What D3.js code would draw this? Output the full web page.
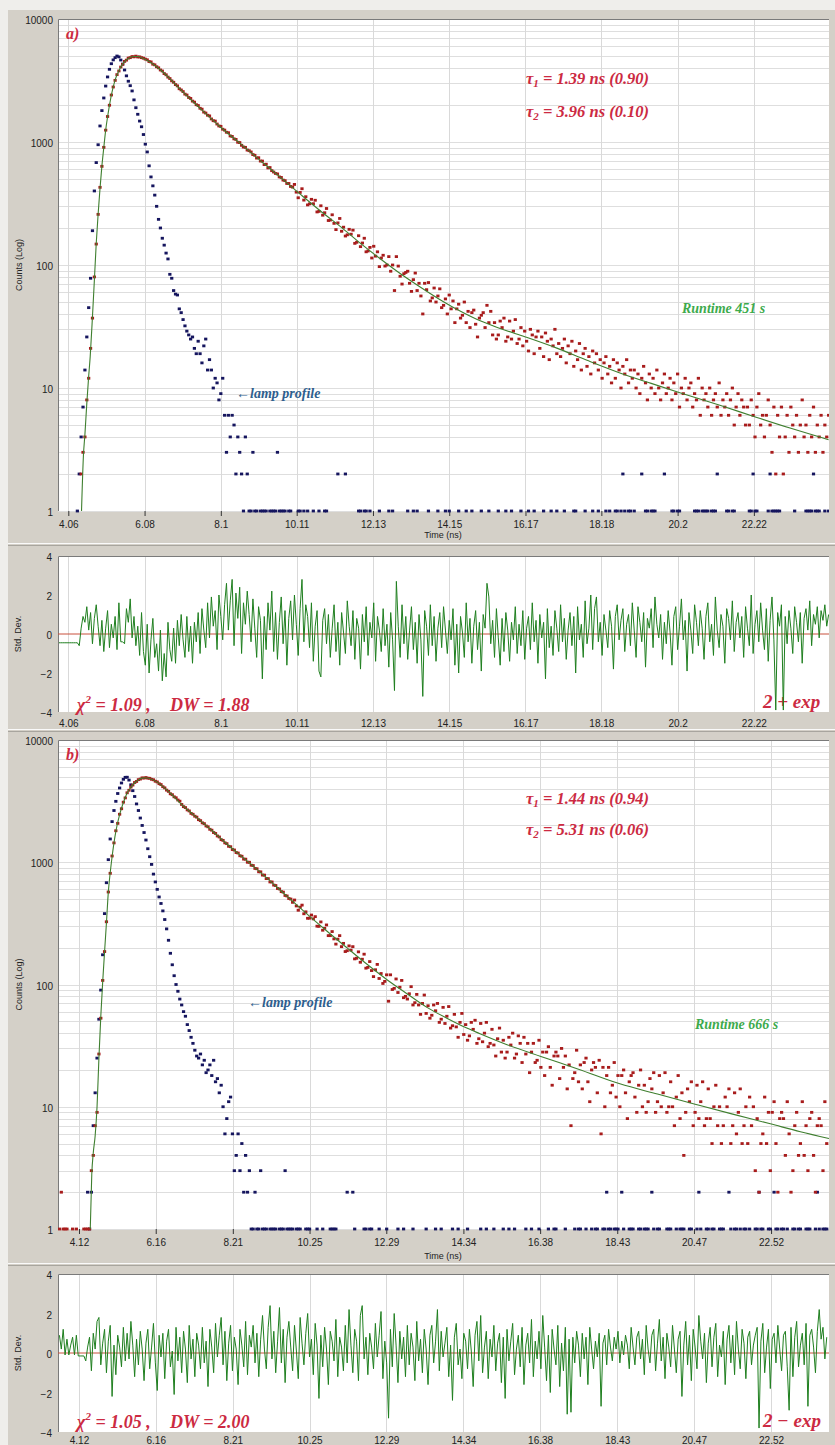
<!DOCTYPE html>
<html>
<head>
<meta charset="utf-8">
<script src="https://cdnjs.cloudflare.com/ajax/libs/d3/7.8.5/d3.min.js"></script>
<style>
  body { margin: 0; background: #d4d0c8; }
  svg { display: block; }
</style>
</head>
<body>
<div id="chart"></div>
<script>
// ---- données ----
const step = 0.05; // pas des canaux (ns)

// panneau a)
const ticksA = [4.06, 6.08, 8.1, 10.11, 12.13, 14.15, 16.17, 18.18, 20.2, 22.22];
const tickLabelsA = ['4.06', '6.08', '8.1', '10.11', '12.13', '14.15', '16.17', '18.18', '20.2', '22.22'];
const timeRangeA = [3.787, 24.21];

const decayStartA = 4.40;
const decayA = [
  2,3,4,8,12,21,37,80,148,258,428,634,905,1248,1612,1990,2410,2800,3170,3530,3780,4070,4280,4520,4630,4810,4850,4950,4920,4990,4910,4920,4850,4800,4720,4660,4510,4480,4290,4240,4090,4010,3850,3780,3600,3520,3370,3280,3140,3060,2930,2860,2710,
  2650,2570,2450,2410,2300,2260,2150,2110,2010,1980,1880,1850,1750,1720,1650,1630,1540,1490,1480,1400,1350,1340,1270,1250,1200,1190,1120,1110,1060,1050,995,990,940,910,905,860,850,830,790,780,740,745,700,700,655,660,615,620,585,570,555,550,520,515,490,485,460,460,435,430,
  452,391,352,389,417,337,359,308,314,342,315,336,270,273,303,254,266,288,230,232,256,218,194,220,239,188,203,172,176,195,178,192,150,153,173,141,151,165,128,130,139,114,142,118,128,97,114,120,98,100,117,89,100,62,117,98,81,70,85,87,
  89,71,61,76,86,62,71,56,40,71,63,72,51,54,65,50,56,64,45,47,53,40,57,44,51,34,44,48,37,39,50,34,42,31,41,43,33,26,37,39,41,31,47,34,42,27,34,25,27,35,31,37,24,26,35,25,29,36,23,25,
  31,22,29,24,20,30,27,19,26,29,21,26,18,28,24,17,25,22,30,19,23,18,21,25,16,22,19,24,15,20,17,23,14,19,21,15,18,13,20,16,19,14,17,12,16,18,13,15,11,17,12,16,14,10,15,13,17,11,14,12,
  14,10,13,9,12,15,11,8,13,10,12,9,14,10,8,11,13,9,10,12,8,11,9,13,7,10,9,12,8,10,11,7,9,8,12,6,10,8,9,7,10,6,8,9,7,11,6,8,7,9,6,8,10,5,7,9,6,8,7,5,
  7,5,8,6,4,7,9,5,6,4,6,8,5,3,7,2,6,4,7,2,4,6,3,7,5,4,6,3,5,8,4,5,3,6,4,7,3,5,4,6,3,5,4,6
];

const lampStartA = 4.30;
const lampA = [
  1,2,4,7,14,26,45,78,190,400,680,950,1350,1800,2280,2850,3380,3900,4330,4650,
  4850,5000,4920,4640,4300,3850,3450,3120,2870,2600,2200,1900,1680,1480,1330,1150,960,830,640,520,
  440,370,300,235,200,165,145,125,112,84,78,62,58,57,44,41,36,32,29,27,
  25,26,21,19,24,19,16,22,25,14,17,14,10,12,11,8,9,12,6,3,6,4,6,5,2,4,3,2,
  1,4,2,1,1,3,1,1,0,1, 1,1,1,0,1,1,1,1,3,1, 1,1,1,0,1,1,0,0,0,1, 1,0,1,0,1,0,0,1,0,0,
  1,0,0,1,1,0,0,0,0,0, 2,0,0,0,2,0,0,0,0,0, 0,1,1,0,1,1,0,1,0,0, 0,0,1,0,0,0,0,1,0,1,
  0,0,0,0,0,0,0,1,0,0, 1,0,1,0,0,0,0,0,1,0, 0,0,0,1,0,0,0,1,0,1, 0,0,0,0,1,0,0,0,1,0,
  0,1,0,0,0,0,1,0,0,0, 1,0,0,0,0,1,0,0,0,1, 0,0,1,0,0,0,0,1,0,0, 0,1,0,0,1,0,0,0,0,1,
  0,0,0,1,0,0,1,0,0,0, 1,0,0,0,0,1,1,0,0,0, 0,1,0,0,0,1,0,0,1,0, 0,0,1,0,1,0,0,1,1,0,
  1,2,1,0,1,1,0,1,0,0, 0,2,0,1,1,0,1,1,1,0, 0,0,0,2,0,0,0,1,1,0, 1,1,0,0,0,0,0,0,0,1,
  1,1,0,1,1,1,1,0,1,1, 1,2,0,0,0,0,1,1,0,1, 1,0,0,0,0,0,0,0,1,1, 2,1,1,0,0,0,0,0,1,2,
  1,1,1,1,1,0,0,0,0,0, 0,0,1,0,0,0,0,0,1,1, 1,1,2,1,1,1,0,0,1,0, 1
];

const fitA = [
  [4.41,1],[4.46,2.8],[4.50,4.2],[4.55,7.5],[4.60,12.5],[4.64,18],[4.70,38],[4.75,75],[4.80,150],[4.85,260],
  [4.90,420],[4.95,640],[5.00,900],[5.05,1250],[5.10,1600],[5.20,2400],[5.30,3200],[5.40,3800],[5.50,4300],
  [5.60,4650],[5.70,4870],[5.80,4950],[5.90,4950],[6.00,4850],[6.20,4520],[6.40,4090],[6.60,3620],[6.80,3150],
  [7.00,2730],[7.55,1880],[8.08,1330],[8.61,975],[9.14,710],[9.68,515],[10.21,375],[10.74,275],[11.27,205],
  [11.80,150],[12.33,112],[12.86,85],[13.39,66],[13.92,52],[14.45,42],[14.89,36],[15.5,30.5],[16.17,26],
  [17.0,21.1],[17.8,16.8],[18.69,13.2],[19.5,10.9],[20.28,9.1],[21.34,7.2],[22.2,5.9],[23.2,4.7],[24.2,3.8]
];

const residStartA = 3.80;
const residA = [
  -0.45,-0.45,-0.45,-0.45,-0.45,-0.45,-0.45,-0.45,-0.45,-0.45,-0.45,-0.6,
  0.3,0.9,0.6,1.4,0.2,1.1,-0.5,0.8,1.5,0.4, -0.6,0.7,-0.9,0.3,1.2,-0.7,0.5,-0.2,0.9,-0.8,
  1.6,-0.4,-0.4,-0.5,1.3,0.6,1.8,-0.2,0.9,-0.6, 0.4,-1.1,1.1,-0.9,-1.6,0.5,-2.0,-0.3,0.8,-1.2,
  -0.5,-1.9,0.2,-2.4,-1.0,-2.2,0.6,-0.8,-1.4,0.3, -1.5,0.7,-0.6,1.0,-0.3,-1.2,0.9,-0.9,0.4,-1.5,
  0.6,-0.4,1.1,-1.0,1.3,0.2,-0.7,1.6,-0.2,1.9, 0.4,1.2,-0.8,2.0,0.9,-0.3,1.5,2.6,0.2,1.7,
  2.8,-0.6,2.1,0.8,2.4,-1.0,1.6,0.5,2.2,1.0, -0.4,1.8,0.3,-1.2,1.4,0.7,-2.3,0.9,-0.8,1.6,
  0.2,2.2,-0.9,1.1,-1.3,0.6,1.9,-0.5,1.2,-1.6, 0.8,1.7,-0.3,2.0,0.5,-1.1,1.3,2.8,-0.4,1.5,
  0.9,-0.7,1.6,-1.4,0.4,1.2,-1.9,-2.2,0.7,1.3, -0.5,1.0,-1.2,0.3,1.5,-0.9,0.6,-1.6,1.1,0.1,
  -1.0,1.7,0.4,-0.6,1.2,-1.3,0.8,0.3,-1.8,1.0, -0.4,1.4,-1.1,0.6,-0.2,1.6,-1.4,0.9,0.2,-0.9,
  1.3,-0.6,0.5,-1.7,1.1,-0.3,-2.9,2.7,0.4,-1.2, 1.5,-0.5,0.9,-1.3,0.2,1.4,-0.8,0.6,-1.5,1.0,
  -0.3,-3.2,1.2,0.4,-1.1,1.5,-0.6,0.9,-1.4,0.3, 1.1,-0.7,1.4,0.2,-1.0,0.7,-0.3,1.3,-1.6,0.5,
  -2.0,0.9,0.1,-1.2,1.6,-0.4,0.8,-1.5,0.4,1.2, -0.8,0.6,-1.9,1.0,0.3,2.6,1.9,-0.5,0.7,-1.2,
  1.3,-0.2,-1.6,0.8,-0.9,1.1,0.2,-1.4,0.6,-0.3, 1.4,-1.0,0.5,-0.6,1.2,-1.3,0.3,0.9,-0.8,1.6,
  -0.4,0.7,-1.5,1.0,-0.2,0.6,-2.3,1.3,-0.7,0.4, -1.1,1.2,0.3,-0.9,1.5,-0.4,0.8,-1.3,0.2,1.1,
  -0.6,0.9,-2.0,1.4,-0.3,0.5,-1.2,1.7,-0.5,0.3, 2.0,-0.8,1.3,1.9,-0.4,0.6,-1.1,1.0,0.2,-0.7,
  1.2,0.4,-1.8,0.9,1.5,-0.3,0.7,1.3,-0.9,0.5, 1.0,-0.6,1.6,0.2,-1.2,1.4,0.6,-0.4,1.1,-1.7,
  0.8,0.3,1.3,-0.7,1.9,0.5,-0.2,1.0,-1.3,0.6, -0.5,1.2,0.1,-1.6,0.9,1.4,-0.8,0.4,1.8,-0.3,
  0.7,-1.9,1.1,0.2,-1.0,1.5,0.6,-0.6,1.2,0.3, -1.3,0.9,1.6,-0.4,0.5,-1.1,1.9,0.2,-0.7,1.0,
  0.4,-1.5,1.3,0.8,-0.3,1.7,-0.9,0.6,1.1,-0.2, 0.9,-1.2,1.4,0.3,-0.6,2.0,-1.0,0.5,1.2,-0.4,
  1.6,0.2,-0.8,1.3,-1.4,0.7,1.9,-0.3,-3.9,1.1, 0.4,1.5,-3.9,0.9,-0.5,1.2,0.3,-1.0,1.4,0.6,
  -0.4,1.1,-1.5,0.8,1.3,0.2,1.7,-0.6,1.0,0.5, 1.4,-0.2,1.2,0.7,1.5,0.4,1.0
];

// panneau b)
const ticksB = [4.12, 6.16, 8.21, 10.25, 12.29, 14.34, 16.38, 18.43, 20.47, 22.52];
const tickLabelsB = ['4.12', '6.16', '8.21', '10.25', '12.29', '14.34', '16.38', '18.43', '20.47', '22.52'];
const timeRangeB = [3.562, 24.06];

const decayStartB = 3.60;
const decayB = [
  1,2,1,1,1,0,0,1,0,1,0,0,0,1,1,1,1,
  3,4,7,9,27,53,108,186,326,571,812,1125,1440,1810,2080,2470,2740,3100,3360,3700,3880,4120,4280,4490,4580,4740,4790,4900,4880,4930,4870,4860,4770,4730,4600,4540,4390,4320,4150,4060,3890,3800,3630,3570,3430,3370,3230,3160,
  2970,2850,2800,2680,2630,2510,2470,2380,2340,2230,2190,2100,2070,1980,1950,1860,1830,1750,1720,1640,1610,1530,1510,1440,1420,1350,1340,1270,1260,1200,1190,1130,1120,1060,1060,1000,1000,945,940,890,885,835,835,785,785,735,735,690,690,650,645,610,605,575,570,535,530,505,500,470,
  491,439,405,429,446,379,393,348,349,370,344,359,300,299,325,278,288,307,251,251,271,236,214,235,251,204,217,186,189,207,191,204,162,164,185,152,161,177,136,138,154,130,116,132,146,112,123,102,106,120,73,120,91,93,111,86,95,108,78,80,
  76,84,96,68,71,83,68,57,70,82,58,67,53,56,68,61,70,49,52,65,48,55,66,44,46,57,45,37,49,58,39,47,35,38,49,43,51,33,36,48,34,40,49,31,33,43,32,26,36,44,28,35,25,28,37,32,40,25,27,38,
  33,23,37,27,33,19,28,33,23,24,35,21,28,18,28,31,21,15,26,28,26,17,30,21,26,14,22,7,17,19,29,16,22,14,23,25,16,11,20,23,21,13,24,6,21,10,18,21,13,15,23,12,18,10,18,20,13,8,16,18,
  19,12,9,15,20,10,15,9,11,17,14,19,9,11,18,10,13,19,9,10,16,10,7,12,18,8,13,4,9,14,11,16,7,9,15,8,11,16,7,8,14,8,5,10,15,7,10,5,7,12,10,14,5,7,13,6,9,14,5,7,
  10,5,12,7,10,3,8,2,5,6,12,5,9,3,9,11,5,2,8,9,8,4,11,6,2,3,7,9,4,5,11,4,7,3,8,9,4,2,7,8,7,3,11,5
];

const lampStartB = 4.30;
const lampB = [
  0,2,1,2,7,13,25,52,90,175,380,680,1050,1550,2150,2650,3150,3650,4050,4450,
  4770,4950,4960,4700,4300,3850,3450,3000,2650,2300,2000,1750,1520,1290,1110,960,800,690,600,520,
  460,400,340,285,230,180,145,118,100,88,76,68,60,55,47,42,37,33,29,26,
  25,27,22,24,19,20,22,18,24,16,17,13,15,10,6,8,11,12,6,3,4,6,3,5,2,4,2,3,
  1,1,2,1,1,3,1,1,1,0, 1,1,1,1,0,1,1,1,3,1, 1,1,1,0,1,1,1,0,0,1, 1,1,0,0,0,1,0,0,1,0,
  0,0,1,1,1,1,0,0,0,0, 0,2,0,0,2,1,0,0,0,0, 1,1,0,1,1,0,0,0,1,0, 0,0,1,0,0,0,0,0,1,0,
  0,1,0,0,0,0,1,0,0,0, 0,0,0,1,0,0,0,0,1,0, 0,1,0,0,0,0,0,1,0,0, 1,0,0,0,0,1,0,0,0,0,
  0,0,1,0,0,1,0,0,0,1, 0,0,0,0,1,0,0,1,0,0, 1,0,0,0,0,0,1,0,0,1, 0,0,0,1,0,0,0,0,1,0,
  0,1,1,0,0,0,0,1,0,0, 0,0,1,0,1,1,0,0,1,0, 0,1,0,1,1,0,0,1,1,2, 1,1,0,1,1,1,0,2,1,0,
  0,1,1,1,0,0,1,1,0,1, 1,1,0,2,1,0,1,1,0,0, 0,1,1,1,0,0,1,0,1,1, 1,0,0,1,1,0,0,1,2,1,
  0,0,1,1,0,1,1,0,0,1, 1,1,0,0,2,1,0,1,1,0, 1,0,1,1,0,1,0,0,1,1, 2,1,1,0,0,1,1,0,2,1,
  1,0,1,1,0,1,0,0,1,1, 0,1,1,0,0,1,1,1,0,0, 1,2,1,0,1,1, 1
];

const fitB = [
  [4.42,1],[4.46,2.8],[4.50,4.2],[4.55,5.8],[4.60,10],[4.65,25],[4.70,55],[4.75,105],[4.80,185],[4.85,320],
  [4.90,570],[4.95,820],[5.00,1110],[5.10,1790],[5.20,2450],[5.30,3080],[5.40,3680],[5.50,4100],[5.60,4470],
  [5.70,4720],[5.80,4880],[5.90,4910],[6.00,4850],[6.20,4520],[6.40,4040],[6.60,3550],[6.81,3050],[7.16,2450],
  [7.60,1880],[8.05,1410],[8.58,1030],[9.11,745],[9.64,530],[10.17,380],[10.70,275],[11.24,200],[11.77,147],
  [12.30,110],[12.84,84],[13.37,65],[13.90,53],[14.43,44],[14.78,39.6],[15.5,32.2],[16.4,25.8],[17.4,20.3],
  [18.5,15.4],[19.5,12.7],[20.5,10.5],[21.5,8.7],[22.5,7.25],[23.3,6.25],[24.06,5.5]
];

const residStartB = 3.60;
const residB = [
  0.9,0.2,1.2,-0.1,0.7,-0.1,0.4,0.8,-0.1,0.9,-0.15,-0.15,-0.15,-0.15,-0.4,0.3,
  0.8,-0.9,1.0,0.2,1.6,1.8,-0.6,0.5,1.2,-1.0, 0.6,1.4,-2.2,0.4,-1.1,0.9,0.3,-0.7,1.3,-0.4,
  1.0,-0.3,1.6,0.4,-1.2,0.7,-0.6,1.1,0.2,-1.4, 0.5,1.2,-0.8,0.3,1.5,-0.5,-1.9,0.9,-0.2,1.0,
  -1.3,0.6,1.2,-0.7,0.1,-2.1,1.3,-0.4,0.8,-1.0, 1.1,0.2,-1.5,1.4,-0.3,0.7,-1.2,1.0,0.4,-0.8,
  1.3,-0.5,0.6,-1.7,1.2,0.3,-1.0,1.5,-0.2,0.9, 1.8,-0.6,1.1,-1.4,0.5,1.4,-0.9,0.8,0.2,-1.6,
  1.2,0.4,-0.7,1.6,-1.1,0.9,0.3,1.4,-0.5,1.0, -1.2,0.7,1.9,0.2,-0.8,1.3,2.4,-0.3,1.1,-1.0,
  0.6,2.3,-0.5,1.2,-1.5,0.8,1.6,0.3,-0.9,1.4, 0.1,-1.3,1.8,0.5,-0.6,1.0,2.0,-0.2,0.7,-1.1,
  1.5,0.4,-2.3,0.9,-0.7,1.3,0.2,-1.6,1.1,0.6, -0.4,1.7,-1.2,0.8,0.3,-0.9,1.4,-0.5,2.2,0.4,
  -1.0,1.2,0.6,-1.4,1.9,2.4,-0.3,0.8,-1.1,1.0, 0.3,-0.8,1.5,-0.2,0.9,2.1,-1.3,0.6,-0.5,-3.3,
  1.2,-0.7,2.0,0.4,-1.5,1.1,-0.3,0.8,-1.2,1.4, -0.6,1.0,0.3,-1.4,1.6,-0.4,0.7,-1.0,1.2,0.2,
  -1.6,0.9,1.4,-0.5,0.6,2.2,-0.9,1.1,-0.2,0.5, 1.3,-1.2,0.4,-2.4,0.8,1.5,-0.6,0.2,-1.3,1.0,
  0.6,-0.8,1.2,0.1,-1.7,0.9,1.6,-0.4,1.9,-1.0, 0.3,1.1,-1.3,0.7,-0.2,1.4,-0.9,0.5,1.0,-1.5,
  0.8,-2.3,1.2,-0.4,0.6,1.5,-1.1,0.2,0.9,-0.7, 1.3,-1.6,0.4,1.0,-0.5,1.7,-1.2,0.6,-0.3,1.1,
  -0.8,1.9,0.3,-1.4,0.9,-2.0,1.2,0.2,-0.6,1.4, -1.7,0.5,-0.9,1.3,-3.1,0.7,-3.0,0.8,-0.5,1.1,
  0.4,-1.2,1.0,-0.3,0.8,-1.6,1.3,0.2,-0.8,0.6, -0.2,1.0,-2.7,0.5,0.9,-0.6,1.2,0.3,-0.4,0.8,
  0.2,1.1,-0.5,0.6,-0.1,0.9,0.4,-0.8,1.3,0.3, -0.6,0.8,1.1,-0.3,0.7,-1.1,1.4,0.2,-0.5,0.9,
  1.2,-0.9,0.5,1.7,-0.4,0.8,-1.3,1.0,0.3,-0.7, 1.4,0.2,-1.0,0.7,1.1,-2.2,0.4,1.6,-0.6,0.9,
  -1.4,1.2,0.3,-0.8,1.9,0.6,-0.3,1.0,-1.5,0.5, 1.3,-0.7,0.8,1.5,-1.2,0.4,-0.2,1.1,-1.6,0.7,
  1.4,-0.5,0.9,-1.1,1.6,0.2,-0.8,1.2,0.5,-1.3, 0.8,1.1,-0.6,0.4,0.9,1.3,-3.8,0.6,1.5,-1.0,
  0.3,1.2,-1.8,0.7,1.0,-0.5,1.4,0.2,-0.9,0.9, 1.1,-0.7,-2.9,1.3,-1.2,0.8,1.6,-0.7,0.4,1.0,
  -0.6,1.5,-2.7,0.9,1.2,0.3,-1.0,1.1,2.2,0.7, 1.3,-0.3,0.8
];

// ---- mise en page ----
const W = 835, H = 1445;
const plotLeft = 58, plotRight = 829;
const red = '#a81c1c', navy = '#15155e', fitGreen = '#3f7f2f', resGreen = '#1f7f1f';
const annotRed = '#cc2a42';

const svg = d3.select('#chart').append('svg')
  .attr('width', W)
  .attr('height', H)
  .style('font-family', '"Liberation Sans", Arial, sans-serif');

// fond de la fenêtre
svg.append('rect').attr('width', W).attr('height', H).attr('fill', '#efeeeb');
svg.append('rect').attr('x', 8).attr('y', 10).attr('width', W - 8).attr('height', H - 10).attr('fill', '#d4d0c8');

// séparateurs entre les zones
[543, 729, 1263].forEach(yy => {
  svg.append('line').attr('x1', 8).attr('x2', W).attr('y1', yy + 0.5).attr('y2', yy + 0.5).attr('stroke', '#fafafa');
  svg.append('line').attr('x1', 8).attr('x2', W).attr('y1', yy + 2.5).attr('y2', yy + 2.5).attr('stroke', '#a8a59e');
});

const panels = [
  {
    id: 'a', label: 'a)', tRange: timeRangeA, ticks: ticksA, tickLabels: tickLabelsA,
    decayTop: 19, decayBottom: 511, resTop: 556, resBottom: 712, resPad: 8,
    decay: decayA, decayStart: decayStartA, lamp: lampA, lampStart: lampStartA,
    fit: fitA, resid: residA, residStart: residStartA,
    tau1: ['1', '1.39 ns (0.90)'], tau2: ['2', '3.96 ns (0.10)'], tauY: [84, 117],
    runtime: 'Runtime 451 s', runtimeX: 682, runtimeY: 313,
    lampX: 236, lampY: 398,
    chi: '1.09', dw: '1.88', statY: 711, model: '2 + exp', modelY: 708,
    timeY: 538
  },
  {
    id: 'b', label: 'b)', tRange: timeRangeB, ticks: ticksB, tickLabels: tickLabelsB,
    decayTop: 740, decayBottom: 1229, resTop: 1274, resBottom: 1432, resPad: 5,
    decay: decayB, decayStart: decayStartB, lamp: lampB, lampStart: lampStartB,
    fit: fitB, resid: residB, residStart: residStartB,
    tau1: ['1', '1.44 ns (0.94)'], tau2: ['2', '5.31 ns (0.06)'], tauY: [804, 835],
    runtime: 'Runtime 666 s', runtimeX: 695, runtimeY: 1029,
    lampX: 248, lampY: 1007,
    chi: '1.05', dw: '2.00', statY: 1428, model: '2 \u2212 exp', modelY: 1427,
    timeY: 1259
  }
];

panels.forEach(drawPanel);

function drawPanel(p) {
  const g = svg.append('g').attr('class', 'panel-' + p.id);

  const x = d3.scaleLinear().domain(p.tRange).range([plotLeft, plotRight]);
  const y = d3.scaleLog().domain([1, 10000]).range([p.decayBottom, p.decayTop]);
  const yr = d3.scaleLinear().domain([-4, 4]).range([p.resBottom, p.resTop]);

  // zones de tracé
  [[p.decayTop, p.decayBottom], [p.resTop, p.resBottom]].forEach(([t, b]) => {
    g.append('rect')
      .attr('x', plotLeft).attr('y', t)
      .attr('width', plotRight - plotLeft).attr('height', b - t)
      .attr('fill', '#ffffff');
  });

  // grille horizontale (log)
  const levels = [];
  [1, 10, 100, 1000].forEach(d => { for (let k = 1; k < 10; k++) levels.push(k * d); });
  levels.push(10000);
  g.selectAll('.hgrid').data(levels).enter().append('line')
    .attr('class', 'hgrid')
    .attr('x1', plotLeft).attr('x2', plotRight)
    .attr('y1', d => Math.round(y(d)) + 0.5).attr('y2', d => Math.round(y(d)) + 0.5)
    .attr('stroke', '#dedede');

  // grille verticale
  [[p.decayTop, p.decayBottom], [p.resTop, p.resBottom]].forEach(([t, b]) => {
    g.selectAll(null).data(p.ticks).enter().append('line')
      .attr('x1', d => Math.round(x(d)) + 0.5).attr('x2', d => Math.round(x(d)) + 0.5)
      .attr('y1', t).attr('y2', b)
      .attr('stroke', '#d9d9d9');
  });

  // bordures des zones
  [[p.decayTop, p.decayBottom], [p.resTop, p.resBottom]].forEach(([t, b]) => {
    g.append('path')
      .attr('d', `M${plotLeft + 0.5},${b}V${t + 0.5}H${plotRight}`)
      .attr('fill', 'none').attr('stroke', '#7a7a7a');
  });

  // axes
  const xAxis = d3.axisBottom(x).tickValues(p.ticks)
    .tickFormat((d, i) => p.tickLabels[i]).tickSize(5).tickPadding(5);
  g.append('g').attr('transform', `translate(0,${p.decayBottom})`).call(xAxis)
    .call(a => a.select('.domain').remove())
    .call(a => a.selectAll('line').attr('stroke', '#333'))
    .call(a => a.selectAll('text').attr('fill', '#222').attr('font-size', '10px'));

  const xAxisRes = d3.axisBottom(x).tickValues(p.ticks)
    .tickFormat((d, i) => p.tickLabels[i]).tickSize(0).tickPadding(p.resPad);
  g.append('g').attr('transform', `translate(0,${p.resBottom})`).call(xAxisRes)
    .call(a => a.select('.domain').remove())
    .call(a => a.selectAll('text').attr('fill', '#222').attr('font-size', '10px'));

  const yAxis = d3.axisLeft(y).tickValues([1, 10, 100, 1000, 10000])
    .tickFormat(d3.format('d')).tickSize(0).tickPadding(5);
  g.append('g').attr('transform', `translate(${plotLeft},0)`).call(yAxis)
    .call(a => a.select('.domain').remove())
    .call(a => a.selectAll('text').attr('fill', '#222').attr('font-size', '10px').attr('dy', '0.45em'));

  const yAxisRes = d3.axisLeft(yr).tickValues([-4, -2, 0, 2, 4])
    .tickFormat(d3.format('d')).tickSize(0).tickPadding(6);
  g.append('g').attr('transform', `translate(${plotLeft},0)`).call(yAxisRes)
    .call(a => a.select('.domain').remove())
    .call(a => a.selectAll('text').attr('fill', '#222').attr('font-size', '10px').attr('dy', '0.45em'));

  // titres d'axes
  g.append('text')
    .attr('x', 443).attr('y', p.timeY)
    .attr('text-anchor', 'middle').attr('font-size', '9px').attr('fill', '#222')
    .text('Time (ns)');

  g.append('text')
    .attr('transform', `translate(22,${(p.decayTop + p.decayBottom) / 2}) rotate(-90)`)
    .attr('text-anchor', 'middle').attr('font-size', '9px').attr('fill', '#222')
    .text('Counts (Log)');

  g.append('text')
    .attr('transform', `translate(21,${(p.resTop + p.resBottom) / 2}) rotate(-90)`)
    .attr('text-anchor', 'middle').attr('font-size', '9px').attr('fill', '#222')
    .text('Std. Dev.');

  // clips
  const clipDecay = 'clip-decay-' + p.id, clipRes = 'clip-res-' + p.id;
  g.append('clipPath').attr('id', clipDecay).append('rect')
    .attr('x', plotLeft).attr('y', p.decayTop - 2)
    .attr('width', plotRight - plotLeft).attr('height', p.decayBottom - p.decayTop + 4);
  g.append('clipPath').attr('id', clipRes).append('rect')
    .attr('x', plotLeft + 1).attr('y', p.resTop)
    .attr('width', plotRight - plotLeft - 1).attr('height', p.resBottom - p.resTop);

  // points du profil de lampe
  const lampPts = p.lamp.map((v, i) => ({ t: p.lampStart + i * step, v: v })).filter(d => d.v > 0);
  g.append('g').attr('clip-path', `url(#${clipDecay})`)
    .selectAll('rect').data(lampPts).enter().append('rect')
    .attr('x', d => x(d.t) - 1.6).attr('y', d => y(d.v) - 1.4)
    .attr('width', 3.2).attr('height', 2.8)
    .attr('fill', navy);

  // points du déclin
  const decayPts = p.decay.map((v, i) => ({ t: p.decayStart + i * step, v: v })).filter(d => d.v > 0);
  g.append('g').attr('clip-path', `url(#${clipDecay})`)
    .selectAll('rect').data(decayPts).enter().append('rect')
    .attr('x', d => x(d.t) - 1.6).attr('y', d => y(d.v) - 1.4)
    .attr('width', 3.2).attr('height', 2.8)
    .attr('fill', red);

  // courbe ajustée
  const fitLine = d3.line()
    .x(d => x(d[0]))
    .y(d => y(d[1]))
    .curve(d3.curveMonotoneX);
  g.append('path').datum(p.fit)
    .attr('clip-path', `url(#${clipDecay})`)
    .attr('d', fitLine)
    .attr('fill', 'none').attr('stroke', fitGreen).attr('stroke-width', 1.1);

  // résidus
  g.append('text')
    .attr('x', 763).attr('y', p.modelY)
    .attr('font-family', '"Liberation Serif", "Times New Roman", serif')
    .attr('font-style', 'italic').attr('font-weight', 'bold')
    .attr('font-size', '19px').attr('fill', annotRed)
    .text(p.model);

  g.append('line')
    .attr('x1', plotLeft).attr('x2', plotRight)
    .attr('y1', yr(0)).attr('y2', yr(0))
    .attr('stroke', '#c8503c').attr('stroke-width', 1);

  const residLine = d3.line()
    .x((d, i) => x(p.residStart + i * step))
    .y(d => yr(d));
  g.append('path').datum(p.resid)
    .attr('clip-path', `url(#${clipRes})`)
    .attr('d', residLine)
    .attr('fill', 'none').attr('stroke', resGreen).attr('stroke-width', 1);

  // annotations
  const serif = '"Liberation Serif", "Times New Roman", serif';

  g.append('text')
    .attr('x', 66).attr('y', p.decayTop + 20)
    .attr('font-family', serif).attr('font-style', 'italic').attr('font-weight', 'bold')
    .attr('font-size', '16px').attr('fill', annotRed)
    .text(p.label);

  [p.tau1, p.tau2].forEach((tau, i) => {
    const t = g.append('text')
      .attr('x', 526).attr('y', p.tauY[i])
      .attr('font-family', serif).attr('font-style', 'italic').attr('font-weight', 'bold')
      .attr('font-size', '16.5px').attr('fill', annotRed);
    t.append('tspan').text('\u03c4');
    t.append('tspan').attr('font-size', '11px').attr('dy', 3).text(tau[0]);
    t.append('tspan').attr('dy', -3).text(' = ' + tau[1]);
  });

  g.append('text')
    .attr('x', p.runtimeX).attr('y', p.runtimeY)
    .attr('font-family', serif).attr('font-style', 'italic').attr('font-weight', 'bold')
    .attr('font-size', '14px').attr('fill', '#3daa4c')
    .text(p.runtime);

  g.append('text')
    .attr('x', p.lampX).attr('y', p.lampY)
    .attr('font-family', serif).attr('font-style', 'italic').attr('font-weight', 'bold')
    .attr('font-size', '14px').attr('fill', '#2e5e8e')
    .text('\u2190lamp profile');

  const chi = g.append('text')
    .attr('x', 77).attr('y', p.statY)
    .attr('font-family', serif).attr('font-style', 'italic').attr('font-weight', 'bold')
    .attr('font-size', '18px').attr('fill', annotRed);
  chi.append('tspan').text('\u03c7');
  chi.append('tspan').attr('font-size', '11px').attr('dy', -8).text('2');
  chi.append('tspan').attr('dy', 8).text(' = ' + p.chi + ' ,');

  g.append('text')
    .attr('x', 170).attr('y', p.statY)
    .attr('font-family', serif).attr('font-style', 'italic').attr('font-weight', 'bold')
    .attr('font-size', '18px').attr('fill', annotRed)
    .text('DW = ' + p.dw);
}
</script>
</body>
</html>
